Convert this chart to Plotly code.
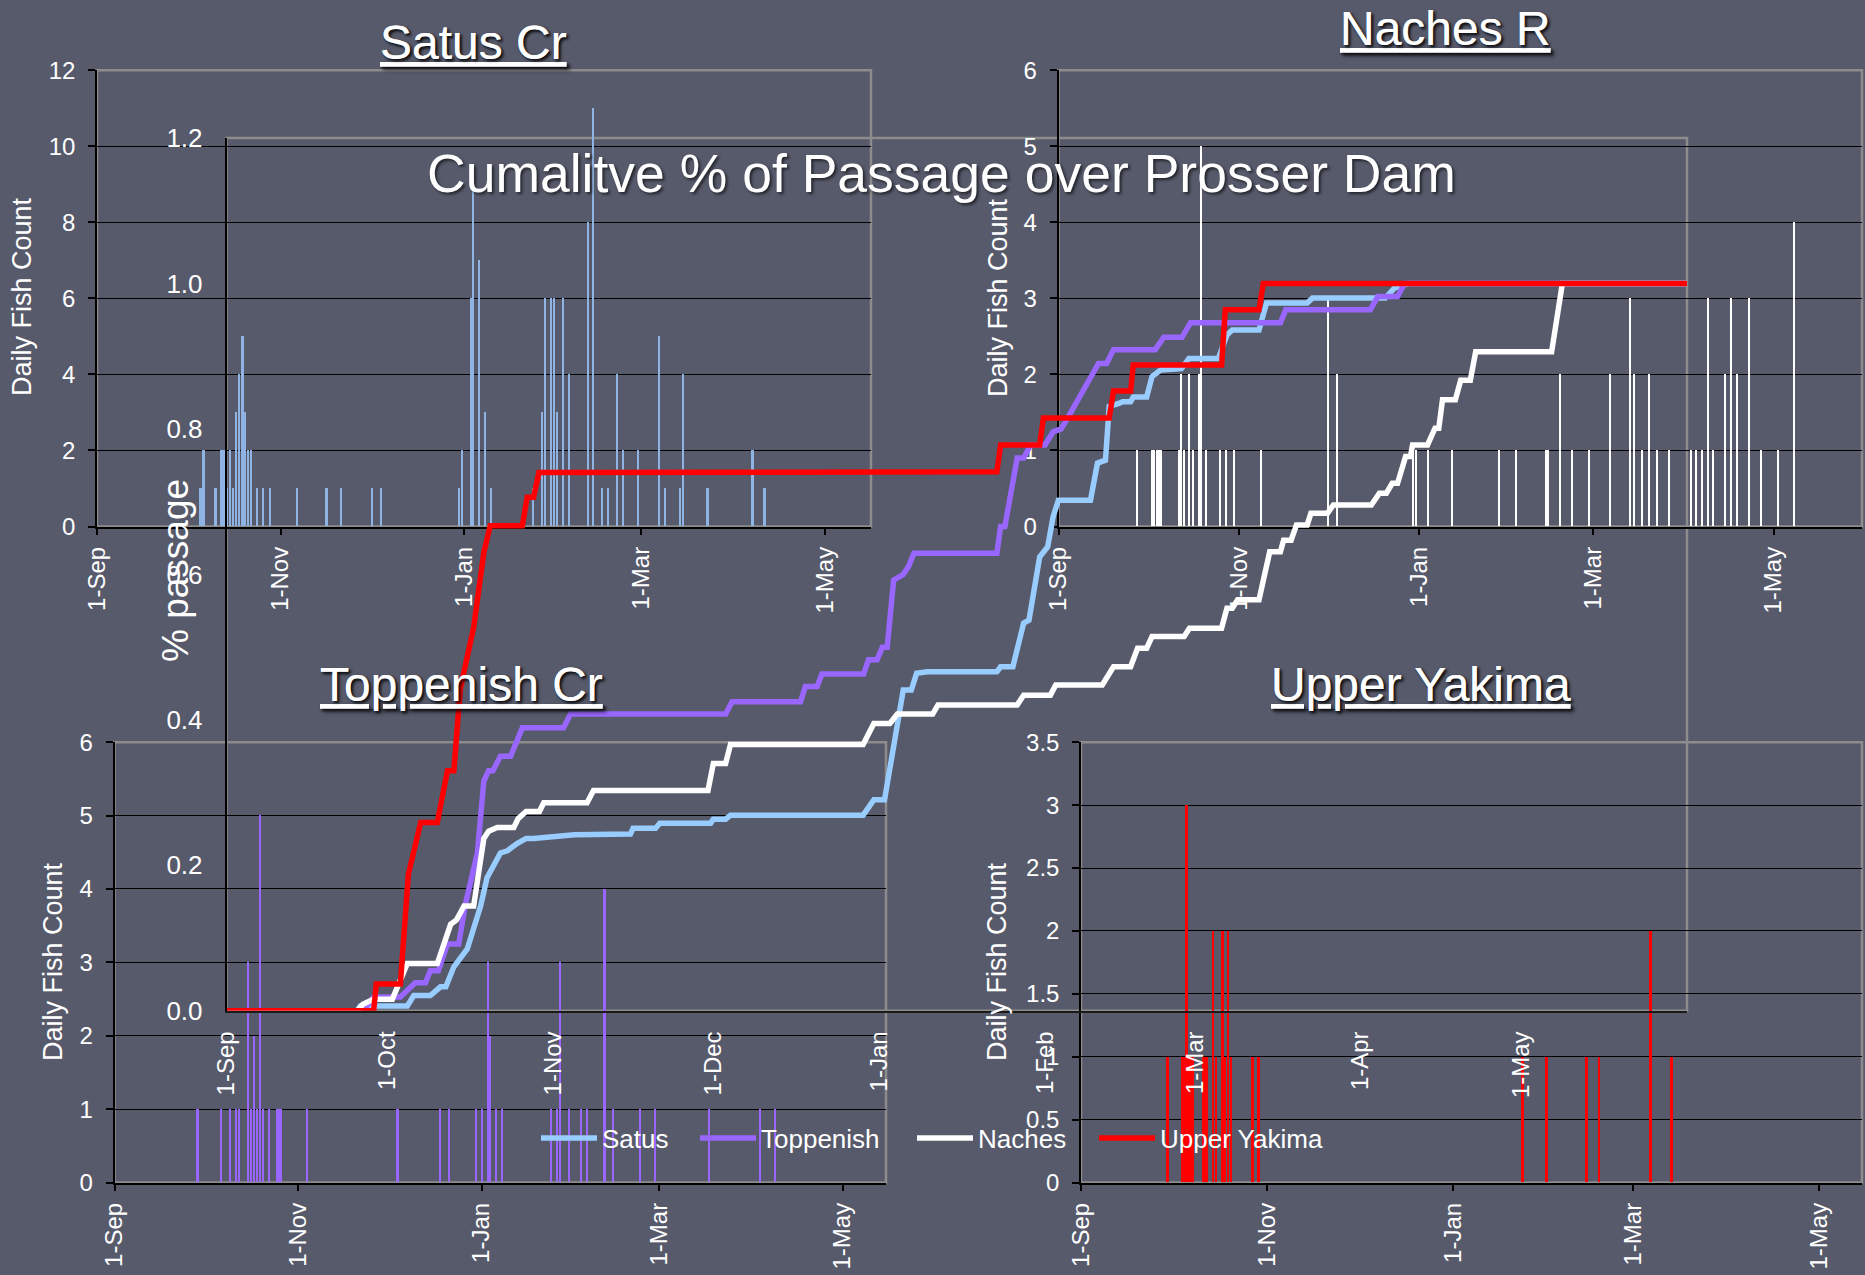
import datetime as dt
import plotly.graph_objects as go

BASE = dt.datetime(2006, 9, 1)
FONT = "Liberation Sans, Arial, sans-serif"
BG = "#575a6b"
W, H = 1865, 1275

# ---------------- data (days after 1-Sep) ----------------
SATUS_BAR_DAY = [34.5, 35.5, 39.5, 41.5, 42.3, 43.4, 44.4, 45.4, 46.4, 47.4, 48.4, 49.3, 50.3, 51.3,
                 53.3, 55.3, 57.6, 66.5, 76.4, 81.3, 91.4, 94.4, 120.4, 121.4, 124.4, 125.1, 127.1,
                 129.1, 131.1, 145.0, 148.0, 149.0, 151.0, 152.0, 153.0, 155.0, 157.0, 163.2, 165.0,
                 168.0, 170.0, 173.0, 175.0, 180.0, 187.0, 189.0, 194.0, 195.0, 203.0, 218.0, 222.0]
SATUS_BAR_COUNT = [1, 2, 1, 2, 2, 1, 2, 1, 3, 4, 5, 3, 2, 2,
                   1, 1, 1, 1, 1, 1, 1, 1, 1, 2, 6, 9, 7,
                   3, 1, 1, 3, 6, 6, 6, 3, 6, 4, 8, 11,
                   1, 1, 4, 2, 2, 5, 1, 1, 4, 1, 2, 1]

NACHES_BAR_DAY = [26.5, 31.4, 32.2, 33.1, 33.9, 34.5, 40.5, 41.3, 42.4, 44.2, 45.4, 47.3, 48.2, 49.8,
                  54.4, 56.4, 59.2, 68.3, 91.2, 94.1, 119.9, 120.9, 124.8, 133.0, 148.8, 154.8,
                  164.7, 165.5, 169.6, 173.5, 179.5, 186.5, 193.4, 194.5, 197.5, 199.6, 202.4,
                  206.5, 213.9, 215.5, 217.5, 219.6, 221.3, 225.4, 227.5, 229.5, 233.6, 237.7,
                  243.4, 248.7]
NACHES_BAR_COUNT = [1, 1, 1, 1, 1, 1, 1, 2, 1, 2, 1, 2, 5, 1,
                    1, 1, 1, 1, 3, 2, 1, 1, 1, 1, 1, 1,
                    1, 1, 2, 1, 1, 2, 3, 2, 1, 2, 1,
                    1, 1, 1, 1, 3, 1, 2, 3, 2, 3, 1,
                    1, 4]

TOPP_BAR_DAY = [27.5, 35.4, 38.3, 40.3, 41.3, 44.3, 45.2, 46.2, 47.2, 48.2, 49.2, 51.2, 54.1, 55.1,
                64.0, 94.0, 108.0, 111.0, 120.0, 122.0, 124.0, 124.8, 126.8, 128.8, 145.0, 147.0,
                148.0, 151.0, 155.0, 157.0, 162.8, 165.7, 174.6, 179.6, 197.5, 214.5, 219.5]
TOPP_BAR_COUNT = [1, 1, 1, 1, 1, 3, 1, 2, 1, 5, 1, 1, 1, 1,
                  1, 1, 1, 1, 1, 1, 3, 2, 1, 1, 1, 1,
                  3, 1, 1, 1, 4, 1, 1, 1, 1, 1, 1]

UY_BAR_DAY = [28.3, 33.2, 34.0, 34.5, 35.5, 36.5, 40.2, 41.2, 43.3, 44.3, 46.3, 47.2, 48.2, 49.2,
              56.2, 58.2, 144.8, 152.6, 165.7, 169.8, 186.6, 193.6]
UY_BAR_COUNT = [1, 1, 1, 3, 1, 1, 1, 1, 2, 1, 2, 1, 2, 1,
                1, 1, 1, 1, 1, 1, 2, 1]

SATUS_CUM_DAY = [0, 24.4, 25, 33.8, 35, 38.1, 40, 41, 42.5, 45, 47.5, 48.7, 51.2, 52.5, 54.3, 56,
                 57.4, 65, 75.5, 76, 80.2, 81, 90.5, 91, 93.3, 94.2, 119, 121, 123, 125.4, 126.5,
                 128, 129, 131, 144, 144.7, 147, 149, 150, 152, 153.5, 154.5, 155.5, 161.5, 162.8,
                 164.3, 165, 166.8, 167.5, 169, 169.5, 172, 173, 174.6, 178.5, 179.9, 185.4, 187,
                 188, 193, 194.4, 202, 203, 216.6, 218.3, 221, 273]
SATUS_CUM_VAL = [0, 0, 0.0066, 0.0066, 0.021, 0.021, 0.033, 0.033, 0.0605, 0.085, 0.144, 0.183,
                 0.217, 0.22, 0.23, 0.237, 0.237, 0.242, 0.243, 0.251, 0.251, 0.258, 0.258, 0.2635,
                 0.2635, 0.269, 0.269, 0.29, 0.29, 0.391, 0.441, 0.441, 0.464, 0.466, 0.466, 0.473,
                 0.473, 0.533, 0.537, 0.624, 0.638, 0.679, 0.702, 0.702, 0.753, 0.757, 0.831, 0.835,
                 0.8375, 0.8375, 0.844, 0.844, 0.872, 0.881, 0.883, 0.897, 0.897, 0.929, 0.936,
                 0.936, 0.973, 0.973, 0.98, 0.98, 0.9935, 1.0, 1.0]

TOPP_CUM_DAY = [0, 25.5, 27.5, 32.5, 35.3, 37.2, 38.1, 39.6, 41.3, 43.4, 44.7, 46.9, 48.1, 49,
                49.8, 51.2, 53.1, 55.3, 63, 64.3, 93.3, 94.5, 107.3, 108.2, 110.4, 111.3, 119.1,
                120, 121.6, 122.6, 123.5, 124.7, 126.5, 127.5, 128.5, 144, 144.7, 145.5, 147.8,
                149, 150.3, 153, 154.5, 156, 157, 163, 164.5, 165.8, 173.6, 175.2, 178.6, 180.2,
                197, 198, 213.8, 215.2, 218.9, 220.2, 273]
TOPP_CUM_VAL = [0, 0, 0.019, 0.019, 0.0385, 0.0385, 0.055, 0.055, 0.092, 0.092, 0.148, 0.217,
                0.316, 0.33, 0.33, 0.35, 0.35, 0.389, 0.389, 0.408, 0.408, 0.425, 0.425, 0.446,
                0.446, 0.463, 0.463, 0.4825, 0.4825, 0.5, 0.5, 0.592, 0.6, 0.611, 0.629, 0.629,
                0.666, 0.666, 0.76, 0.76, 0.778, 0.778, 0.796, 0.8, 0.812, 0.89, 0.89, 0.909, 0.909,
                0.926, 0.926, 0.946, 0.946, 0.964, 0.964, 0.982, 0.982, 1.0, 1.0]

NACHES_CUM_DAY = [0, 24.5, 25.5, 27.5, 31, 33.8, 39.4, 41.9, 43, 44.4, 46.2, 48.1, 49, 50.6, 53.7,
                  54.5, 56, 58.5, 59.3, 67.4, 68.6, 90, 91, 93.3, 94.2, 119, 121, 124, 125.4, 132,
                  133, 147.8, 149, 154, 155, 163.7, 165.8, 169, 170.3, 172, 173, 179, 180, 186,
                  187, 188, 189, 193, 195, 197, 197.6, 199, 200, 202, 202.7, 205.8, 206.9, 214,
                  215.5, 216.8, 217.9, 218.9, 220.4, 221.3, 221.7, 224.5, 225.9, 226.6, 227.3,
                  229.7, 230.7, 232.5, 233.5, 247.7, 249.7, 273]
NACHES_CUM_VAL = [0, 0, 0.009, 0.016, 0.016, 0.065, 0.065, 0.119, 0.125, 0.144, 0.144, 0.237,
                  0.247, 0.252, 0.252, 0.264, 0.274, 0.274, 0.286, 0.286, 0.303, 0.303, 0.34, 0.34,
                  0.366, 0.366, 0.395, 0.395, 0.408, 0.408, 0.4206, 0.4206, 0.434, 0.434, 0.448,
                  0.448, 0.473, 0.473, 0.4985, 0.4985, 0.5145, 0.5145, 0.526, 0.526, 0.5535, 0.5535,
                  0.565, 0.565, 0.631, 0.631, 0.647, 0.647, 0.668, 0.668, 0.684, 0.684, 0.6955,
                  0.6955, 0.7116, 0.7116, 0.7253, 0.7253, 0.762, 0.762, 0.778, 0.778, 0.801, 0.801,
                  0.84, 0.84, 0.867, 0.867, 0.906, 0.906, 1.0, 1.0]

UY_CUM_DAY = [0, 27.5, 28, 32.5, 34, 36.3, 39.4, 41.3, 42.5, 43.7, 46.2, 48.1, 49.3, 55.3, 56.2,
              57.4, 58.4, 144, 144.7, 152, 152.7, 165, 165.8, 169, 169.5, 186, 186.7, 193, 193.8,
              273]
UY_CUM_VAL = [0, 0, 0.037, 0.037, 0.188, 0.259, 0.259, 0.33, 0.33, 0.443, 0.527, 0.63, 0.667,
              0.667, 0.706, 0.706, 0.74, 0.741, 0.778, 0.778, 0.815, 0.815, 0.852, 0.852, 0.888,
              0.888, 0.964, 0.964, 1.0, 1.0]

PANEL_TICK_DAYS = [0, 61, 122, 181, 242]
PANEL_TICK_TEXT = ["1-Sep", "1-Nov", "1-Jan", "1-Mar", "1-May"]
CUM_TICK_DAYS = [0, 30, 61, 91, 122, 153, 181, 212, 242]
CUM_TICK_TEXT = ["1-Sep", "1-Oct", "1-Nov", "1-Dec", "1-Jan", "1-Feb", "1-Mar", "1-Apr", "1-May"]

PANEL_TITLES = ["Satus Cr", "Naches R", "Toppenish Cr", "Upper Yakima"]
MAIN_TITLE = "Cumalitve % of Passage over Prosser Dam"
SERIES_NAMES = ["Satus", "Toppenish", "Naches", "Upper Yakima"]

C_SATUS_LINE = "#99ccff"
C_SATUS_BAR = "#8fb4e3"
C_TOPP = "#9966ff"
C_NACHES = "#ffffff"
C_UY = "#ff0000"


def dates(days):
    return [BASE + dt.timedelta(days=d) for d in days]


def px_x(p):
    return p / W


def px_y(p):
    return 1 - p / H


fig = go.Figure()

DAYMS = 86400000
bars = [
    (SATUS_BAR_DAY, SATUS_BAR_COUNT, C_SATUS_BAR, "x", "y", 0.6),
    (NACHES_BAR_DAY, NACHES_BAR_COUNT, C_NACHES, "x2", "y2", 0.45),
    (TOPP_BAR_DAY, TOPP_BAR_COUNT, C_TOPP, "x3", "y3", 0.6),
    (UY_BAR_DAY, UY_BAR_COUNT, C_UY, "x4", "y4", 0.85),
]
for d, c, col, xa, ya, wd in bars:
    fig.add_trace(go.Bar(x=dates(d), y=c, marker=dict(color=col, line=dict(width=0)),
                         width=[wd * DAYMS] * len(d), xaxis=xa, yaxis=ya, showlegend=False,
                         hoverinfo="skip"))

cums = [
    (SATUS_CUM_DAY, SATUS_CUM_VAL, C_SATUS_LINE, SERIES_NAMES[0], "legend"),
    (TOPP_CUM_DAY, TOPP_CUM_VAL, C_TOPP, SERIES_NAMES[1], "legend2"),
    (NACHES_CUM_DAY, NACHES_CUM_VAL, C_NACHES, SERIES_NAMES[2], "legend3"),
    (UY_CUM_DAY, UY_CUM_VAL, C_UY, SERIES_NAMES[3], "legend4"),
]
for d, v, col, name, lg in cums:
    fig.add_trace(go.Scatter(x=dates(d), y=v, mode="lines", name=name, legend=lg,
                             line=dict(color=col, width=5.5), xaxis="x5", yaxis="y5"))

tickfont = dict(family=FONT, size=24, color="white")


def xaxis(dom, ndays, anchor, tdays, ttext, panel=True):
    a = dict(domain=dom, anchor=anchor, type="date",
             range=[BASE, BASE + dt.timedelta(days=ndays)],
             showgrid=False, zeroline=False, showline=True, linecolor="black", linewidth=1.5,
             tickvals=dates(tdays), ticktext=ttext, tickangle=-90, tickfont=tickfont,
             automargin=False)
    if panel:
        a.update(ticks="outside", ticklen=7, tickcolor="black", tickwidth=1.5,
                 ticklabelstandoff=2)
    else:
        a.update(ticks="", ticklabelstandoff=9, linecolor="#1a1a1a", linewidth=2)
    return a


def yaxis(dom, top, dtick, anchor, panel=True):
    a = dict(domain=dom, anchor=anchor, range=[0, top], dtick=dtick, tick0=0,
             zeroline=False, showline=True, linecolor="black", linewidth=1.5,
             tickfont=tickfont, automargin=False)
    if panel:
        a.update(showgrid=True, gridcolor="black", gridwidth=1.2, ticks="outside", ticklen=7,
                 tickcolor="black", tickwidth=1.5, ticklabelstandoff=8)
    else:
        a.update(showgrid=False, ticks="", tickformat=".1f", ticklabelstandoff=17,
                 tickfont=dict(family=FONT, size=26, color="white"))
    return a


# panel geometry in pixels
satus_x = [px_x(97), px_x(871)]
satus_y = [px_y(526.5), px_y(70.2)]
naches_x = [px_x(1058.5), px_x(1862)]
naches_y = [px_y(526.5), px_y(70.2)]
topp_x = [px_x(114.5), px_x(886)]
topp_y = [px_y(1182.5), px_y(742.2)]
uy_x = [px_x(1081), px_x(1862)]
uy_y = [px_y(1182.5), px_y(742.2)]
cum_x = [px_x(226.5), px_x(1687)]
cum_y = [px_y(1010.8), px_y(138)]


def legend_at(xpx):
    return dict(orientation="h", x=px_x(xpx), y=px_y(1138), xanchor="left", yanchor="middle",
                bgcolor="rgba(0,0,0,0)", font=dict(family=FONT, size=26, color="white"),
                itemwidth=56)


fig.update_layout(
    width=W, height=H, autosize=False,
    margin=dict(l=0, r=0, t=0, b=0, pad=0, autoexpand=False),
    paper_bgcolor=BG, plot_bgcolor="rgba(0,0,0,0)",
    font=dict(family=FONT, color="white"),
    barmode="overlay", bargap=0,
    xaxis=xaxis(satus_x, 257.3, "y", PANEL_TICK_DAYS, PANEL_TICK_TEXT),
    yaxis=yaxis(satus_y, 12, 2, "x"),
    xaxis2=xaxis(naches_x, 271.9, "y2", PANEL_TICK_DAYS, PANEL_TICK_TEXT),
    yaxis2=yaxis(naches_y, 6, 1, "x2"),
    xaxis3=xaxis(topp_x, 256.4, "y3", PANEL_TICK_DAYS, PANEL_TICK_TEXT),
    yaxis3=yaxis(topp_y, 6, 1, "x3"),
    xaxis4=xaxis(uy_x, 256.0, "y4", PANEL_TICK_DAYS, PANEL_TICK_TEXT),
    yaxis4=yaxis(uy_y, 3.5, 0.5, "x4"),
    xaxis5=xaxis(cum_x, 273, "y5", CUM_TICK_DAYS, CUM_TICK_TEXT, panel=False),
    yaxis5=yaxis(cum_y, 1.2, 0.2, "x5", panel=False),
    showlegend=True,
    legend=legend_at(536),
    legend2=legend_at(695),
    legend3=legend_at(912),
    legend4=legend_at(1094),
)

shapes = []
for xr, yr in [("x", "y"), ("x2", "y2"), ("x3", "y3"), ("x4", "y4"), ("x5", "y5")]:
    shapes.append(dict(type="rect", xref=xr + " domain", yref=yr + " domain", x0=0, x1=1, y0=0,
                       y1=1, line=dict(color="#8c8c8c", width=2.5), layer="below"))
fig.update_layout(shapes=shapes)

title_font = dict(family=FONT, size=48, color="white", lineposition="under",
                  shadow="2px 2px 3px rgba(0,0,0,0.6)")
ann = []
for txt, cx, cy in zip(PANEL_TITLES, [473, 1445, 461, 1421], [42, 29, 684, 684]):
    ann.append(dict(text=txt, x=px_x(cx), y=px_y(cy), xref="paper", yref="paper",
                    xanchor="center", yanchor="middle", showarrow=False, font=title_font))
for cx, cy in [(22, 297), (998, 297), (53, 962), (997, 962)]:
    ann.append(dict(text="Daily Fish Count", x=px_x(cx), y=px_y(cy), xref="paper",
                    yref="paper", xanchor="center", yanchor="middle", textangle=-90,
                    showarrow=False, font=dict(family=FONT, size=27, color="white")))
ann.append(dict(text=MAIN_TITLE, x=px_x(941), y=px_y(173), xref="paper", yref="paper",
                xanchor="center", yanchor="middle", showarrow=False,
                font=dict(family=FONT, size=53.5, color="white",
                          shadow="2px 2px 3px rgba(0,0,0,0.6)")))
ann.append(dict(text="% passage", x=px_x(176), y=px_y(571), xref="paper", yref="paper",
                xanchor="center", yanchor="middle", textangle=-90, showarrow=False,
                font=dict(family=FONT, size=37, color="white")))
fig.update_layout(annotations=ann)

fig.write_html("out.html", config={"displayModeBar": False},
               post_script="document.body.style.margin='0';")
